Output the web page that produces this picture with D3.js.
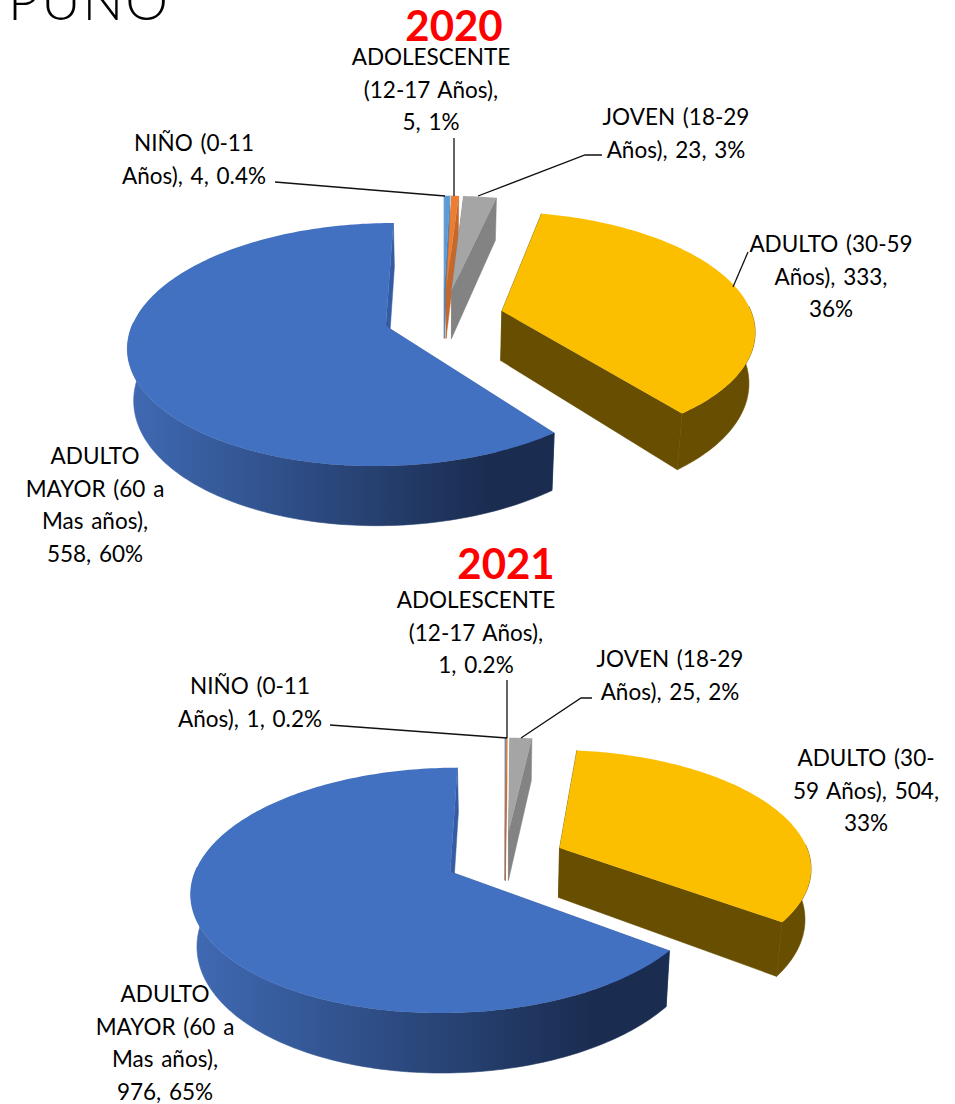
<!DOCTYPE html>
<html>
<head>
<meta charset="utf-8">
<script src="https://d3js.org/d3.v7.min.js"></script>
<style>
  body { margin: 0; background: #fff; }
  text { font-family: Lato, "Open Sans", sans-serif; fill: #000; }
</style>
</head>
<body>
<script>
const WIDTH = 955;
const HEIGHT = 1104;

const categories = ["NIÑO", "ADOLESCENTE", "JOVEN", "ADULTO", "ADULTO MAYOR"];
const values2020 = [4, 5, 23, 333, 558];
const values2021 = [1, 1, 25, 504, 976];

const topColors = ["#5B9BD5", "#ED7D31", "#A5A5A5", "#FBBF00", "#4371C2"];
const edgeColors = ["#4a83b8", "#c4682c", "#838383", "#674E00", "#355CA3"];
const wallLeft = ["#4a83b8", "#c4682c", "#838383", "#674E00", "#3F69B2"];
const wallRight = ["#4a83b8", "#c4682c", "#838383", "#674E00", "#1A2C50"];

const labels2020 = [
  ["NIÑO (0-11", "Años), 4, 0.4%"],
  ["ADOLESCENTE", "(12-17 Años),", "5, 1%"],
  ["JOVEN (18-29", "Años), 23, 3%"],
  ["ADULTO (30-59", "Años), 333,", "36%"],
  ["ADULTO", "MAYOR (60 a", "Mas años),", "558, 60%"]
];
const labels2021 = [
  ["NIÑO (0-11", "Años), 1, 0.2%"],
  ["ADOLESCENTE", "(12-17 Años),", "1, 0.2%"],
  ["JOVEN (18-29", "Años), 25, 2%"],
  ["ADULTO (30-", "59 Años), 504,", "33%"],
  ["ADULTO", "MAYOR (60 a", "Mas años),", "976, 65%"]
];

// label centre x and first baseline y, one per slice
const labelPos2020 = [[194, 151], [431, 65], [676, 125], [831, 252], [95, 464]];
const labelPos2021 = [[250, 694], [476, 608], [670, 667], [866, 766], [165, 1002]];

const leaders2020 = [
  [[275, 182], [445, 196]],
  [[454, 138], [454, 196]],
  [[602, 155], [585, 155], [478, 196]],
  [[748, 252], [733, 287]]
];
const leaders2021 = [
  [[330, 725], [507, 738]],
  [[507, 680], [507, 738]],
  [[592, 698], [581, 698], [521, 738]]
];

const RADIUS = 251;
const FLAT = 116;       // vertical radius of the tilted pie
const PERSP = 0.15;     // nearer points get bigger
const EXPLODE = 0.24;
const DEPTH = 50;       // wall height
const BOTTOM_SCALE = 0.98;
const LINE_GAP = 32.7;

const svg = d3.select("body").append("svg")
  .attr("width", WIDTH)
  .attr("height", HEIGHT)
  .style("display", "block");
const defs = svg.append("defs");

svg.append("text")
  .attr("x", 8)
  .attr("y", 20)
  .attr("font-size", 54)
  .attr("font-weight", 300)
  .attr("letter-spacing", 2)
  .text("PUNO");

function drawPie(id, values, cx, cy, year, titleX, titleY, labels, labelPos, leaders) {
  const g = svg.append("g").attr("id", "pie" + id);

  const xScale = d3.scaleLinear().domain([-1, 1]).range([cx - RADIUS, cx + RADIUS]);
  const yScale = d3.scaleLinear().domain([-1, 1]).range([cy - FLAT, cy + FLAT]);

  // plane point -> screen, drop = 1 gives the bottom rim of the wall
  function project(px, py, drop) {
    const s = 1 / (1 - PERSP * py);
    const sx = xScale(px * s);
    const sy = yScale(py * s);
    if (!drop) return [sx, sy];
    return [cx + (sx - cx) * BOTTOM_SCALE, sy + DEPTH * s];
  }

  const pie = d3.pie().sort(null).value(d => d);
  const arcs = pie(values);
  const line = d3.line();

  arcs.forEach((a, i) => {
    const mid = (a.startAngle + a.endAngle) / 2;
    const ox = EXPLODE * Math.sin(mid);
    const oy = -EXPLODE * Math.cos(mid);
    const rim = t => [ox + Math.sin(t), oy - Math.cos(t)];
    const steps = Math.max(2, Math.ceil((a.endAngle - a.startAngle) / 0.02));
    const angles = d3.range(steps + 1).map(k => a.startAngle + (a.endAngle - a.startAngle) * k / steps);
    const rimPts = angles.map(rim);
    const first = rimPts[0];
    const last = rimPts[steps];

    // start wall, end wall, outer wall, then the top face over them
    const edgeWall = p => [project(ox, oy), project(p[0], p[1]), project(p[0], p[1], 1), project(ox, oy, 1)];
    [first, last].forEach(p => {
      g.append("path")
        .attr("d", line(edgeWall(p)) + "Z")
        .attr("fill", edgeColors[i])
        .attr("stroke", edgeColors[i])
        .attr("stroke-width", 0.5);
    });

    // only the near half of the rim shows a wall
    const near = angles.filter(t => Math.cos(t) < 0.05).map(rim);
    if (near.length > 1) {
      const grad = defs.append("linearGradient")
        .attr("id", "wall" + id + i)
        .attr("gradientUnits", "userSpaceOnUse")
        .attr("x1", d3.min(near, p => project(p[0], p[1], 1)[0]))
        .attr("x2", d3.max(near, p => project(p[0], p[1], 1)[0]))
        .attr("y1", 0)
        .attr("y2", 0);
      grad.append("stop").attr("offset", 0).attr("stop-color", wallLeft[i]);
      grad.append("stop").attr("offset", 0.85).attr("stop-color", wallRight[i]);
      const outer = near.map(p => project(p[0], p[1]))
        .concat(near.slice().reverse().map(p => project(p[0], p[1], 1)));
      g.append("path")
        .attr("d", line(outer) + "Z")
        .attr("fill", "url(#wall" + id + i + ")")
        .attr("stroke", "url(#wall" + id + i + ")")
        .attr("stroke-width", 0.6);
    }

    const face = [project(ox, oy)].concat(rimPts.map(p => project(p[0], p[1])));
    g.append("path").attr("d", line(face) + "Z").attr("fill", topColors[i]);
  });

  g.selectAll(".leader")
    .data(leaders)
    .enter()
    .append("path")
    .attr("class", "leader")
    .attr("d", d => line(d))
    .attr("fill", "none")
    .attr("stroke", "#111")
    .attr("stroke-width", 1.3);

  g.append("text")
    .attr("x", titleX)
    .attr("y", titleY)
    .attr("text-anchor", "middle")
    .attr("font-size", 42)
    .attr("font-weight", 700)
    .style("fill", "#FF0000")
    .text(year);

  labels.forEach((lines, i) => {
    const t = g.append("text")
      .attr("text-anchor", "middle")
      .attr("font-size", 22.5)
      .attr("word-spacing", 2);
    lines.forEach((l, j) => {
      t.append("tspan")
        .attr("x", labelPos[i][0])
        .attr("y", labelPos[i][1] + j * LINE_GAP)
        .text(l);
    });
  });
}

drawPie("a", values2020, 443.5, 317, "2020", 454, 41, labels2020, labelPos2020, leaders2020);
drawPie("b", values2021, 505, 859, "2021", 506, 579, labels2021, labelPos2021, leaders2021);
</script>
</body>
</html>
